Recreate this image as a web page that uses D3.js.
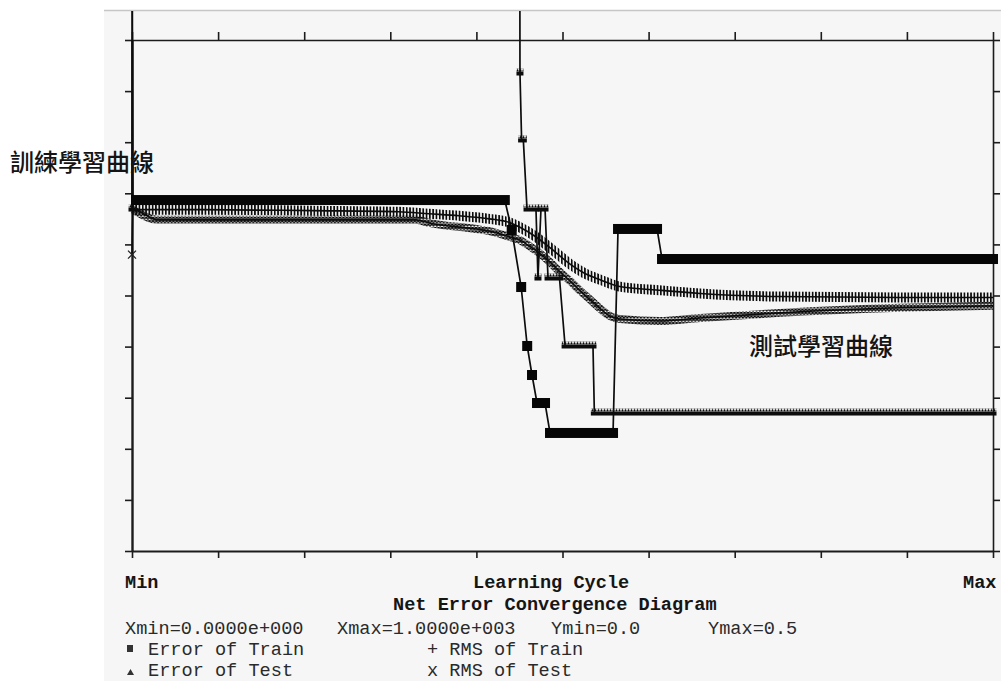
<!DOCTYPE html>
<html>
<head>
<meta charset="utf-8">
<script src="https://cdn.jsdelivr.net/npm/d3@7"></script>
<style>
  html, body { margin: 0; padding: 0; background: #fff; }
  svg { display: block; }
</style>
</head>
<body>
<svg id="chart" width="1001" height="681"></svg>
<script>
// ---- Error of Train: runs of a constant value (start cycle, end cycle, value) ----
const trainErrStart = [0, 1, 441, 452, 459, 464.6, 470.4, 485.5, 564.5, 615.6];
const trainErrEnd   = [0, 433, 441, 452, 459, 464.6, 479.7, 558.7, 609.8, 1000];
const trainErrValue = [0.6, 0.3434, 0.3141, 0.2583, 0.2006, 0.1722, 0.1448, 0.1155, 0.3151, 0.2857];

// ---- Error of Test: runs of a constant value ----
const testErrStart = [0, 1, 450.6, 452.5, 458.8, 471.5, 475, 483.2, 503, 537];
const testErrEnd   = [0, 450, 450.6, 454.5, 469.2, 471.5, 479.7, 496.5, 535.4, 1000];
const testErrValue = [0.3346, 0.9, 0.4677, 0.4022, 0.3346, 0.2671, 0.3346, 0.2671, 0.2006, 0.1350];

// ---- RMS of Train ----
const rmsTrainCycle = [0, 80, 210, 310, 345, 380, 415, 440, 450, 468, 485, 510, 525, 545, 565, 615, 660, 750, 890, 1000];
const rmsTrainValue = [0.334, 0.334, 0.333, 0.332, 0.330, 0.328, 0.325, 0.321, 0.317, 0.308, 0.297, 0.280, 0.272, 0.265, 0.259, 0.255, 0.252, 0.249, 0.248, 0.248];

// ---- RMS of Test ----
const rmsTestCycle = [0, 1, 30, 230, 330, 345, 400, 415, 440, 451, 462, 474, 485, 497, 509, 520, 532, 544, 555, 567, 613, 660, 753, 892, 1000];
const rmsTestValue = [0.290, 0.334, 0.324, 0.324, 0.324, 0.321, 0.315, 0.313, 0.307, 0.304, 0.298, 0.291, 0.283, 0.273, 0.264, 0.255, 0.246, 0.237, 0.230, 0.227, 0.225, 0.228, 0.233, 0.238, 0.240];

// ---- Axis ticks ----
const xTickValues = [0, 100, 200, 300, 400, 500, 600, 700, 800, 900, 1000];
const yTickValues = [0, 0.05, 0.1, 0.15, 0.2, 0.25, 0.3, 0.35, 0.4, 0.45, 0.5];

// ---- Texts ----
const axisLabels = ["Min", "Learning Cycle", "Max"];
const chartTitle = "Net Error Convergence Diagram";
const rangeLabels = ["Xmin=0.0000e+000", "Xmax=1.0000e+003", "Ymin=0.0", "Ymax=0.5"];
const legendNames = ["Error of Train", "RMS of Train", "Error of Test", "RMS of Test"];
const curveLabels = ["訓練學習曲線", "測試學習曲線"];

const W = 1001, H = 681;
const svg = d3.select("#chart");
const ink = "#0c0c0c";

const x = d3.scaleLinear().domain([0, 1000]).range([132, 993]);
const y = d3.scaleLinear().domain([0, 0.5]).range([551, 40]);

// panel
svg.append("rect").attr("x", 104).attr("y", 10).attr("width", W - 104).attr("height", H - 10).attr("fill", "#f6f6f6");
svg.append("line").attr("x1", 104).attr("x2", W).attr("y1", 10.5).attr("y2", 10.5)
  .attr("stroke", "#c6c6c6").attr("stroke-width", 1.5);

const defs = svg.append("defs");
defs.append("clipPath").attr("id", "clipTrain").append("rect")
  .attr("x", 131).attr("y", 11).attr("width", W - 131).attr("height", 560);
defs.append("clipPath").attr("id", "clipData").append("rect")
  .attr("x", 128).attr("y", 11).attr("width", W - 128).attr("height", 560);

// "+" marker texture: vertical bars
const plusPat = defs.append("pattern").attr("id", "plusPat").attr("patternUnits", "userSpaceOnUse")
  .attr("width", 3.3).attr("height", 20);
plusPat.append("rect").attr("x", 0).attr("y", 0).attr("width", 1.7).attr("height", 20).attr("fill", ink);

// "x" marker texture: diagonal cross hatch
const xPat = defs.append("pattern").attr("id", "xPat").attr("patternUnits", "userSpaceOnUse")
  .attr("width", 3.4).attr("height", 3.4);
xPat.append("path").attr("d", "M0,0L3.4,3.4M0,3.4L3.4,0").attr("stroke", ink).attr("stroke-width", 1.3).attr("fill", "none");

// axes
function styleAxis(g, w) {
  g.select(".domain").attr("stroke", "#1c1c1c").attr("stroke-width", w);
  g.selectAll(".tick line").attr("stroke", "#1c1c1c").attr("stroke-width", 1.6);
}
svg.append("g").attr("transform", "translate(0,551)")
  .call(d3.axisBottom(x).tickValues(xTickValues).tickSize(7).tickSizeOuter(0).tickFormat(""))
  .call(g => styleAxis(g, 2));
svg.append("g").attr("transform", "translate(0,40)")
  .call(d3.axisTop(x).tickValues(xTickValues).tickSize(8).tickSizeOuter(0).tickFormat(""))
  .call(g => styleAxis(g, 1.6));
svg.append("g").attr("transform", "translate(132,0)")
  .call(d3.axisLeft(y).tickValues(yTickValues).tickSize(7).tickSizeOuter(0).tickFormat(""))
  .call(g => styleAxis(g, 2.4));
svg.append("g").attr("transform", "translate(993,0)")
  .call(d3.axisRight(y).tickValues(yTickValues).tickSize(7).tickSizeOuter(0).tickFormat(""))
  .call(g => styleAxis(g, 1.6));

const line = d3.line().x(d => x(d[0])).y(d => y(d[1]));
const smooth = d3.line().x(d => x(d[0])).y(d => y(d[1])).curve(d3.curveMonotoneX);

// ---- RMS curves ----
const gData = svg.append("g").attr("clip-path", "url(#clipData)");

const rmsTrainPts = rmsTrainCycle.map((c, i) => [c, rmsTrainValue[i]]);
gData.append("path").attr("d", smooth(rmsTrainPts)).attr("fill", "none")
  .attr("stroke", "url(#plusPat)").attr("stroke-width", 10);
gData.append("path").attr("d", smooth(rmsTrainPts)).attr("fill", "none")
  .attr("stroke", ink).attr("stroke-width", 1.6);

const rmsTestPts = rmsTestCycle.map((c, i) => [c, rmsTestValue[i]]);
gData.append("path").attr("d", smooth(rmsTestPts.slice(1))).attr("fill", "none")
  .attr("stroke", "url(#xPat)").attr("stroke-width", 8);
gData.append("path").attr("d", smooth(rmsTestPts)).attr("fill", "none")
  .attr("stroke", ink).attr("stroke-width", 1.6);

// first RMS of Test sample as a lone "x"
const x0 = x(rmsTestCycle[0]), y0 = y(rmsTestValue[0]);
svg.append("path").attr("d", `M${x0 - 4},${y0 - 4}L${x0 + 4},${y0 + 4}M${x0 - 4},${y0 + 4}L${x0 + 4},${y0 - 4}`)
  .attr("stroke", "#222").attr("stroke-width", 1.3);

// ---- Error of Test: step line with triangle markers ----
const testRuns = testErrStart.map((s, i) => ({ s, e: testErrEnd[i], v: testErrValue[i] }));
gData.append("path").attr("d", line(testRuns.flatMap(r => [[r.s, r.v], [r.e, r.v]])))
  .attr("fill", "none").attr("stroke", ink).attr("stroke-width", 1.7);
testRuns.forEach((r, i) => {
  const pat = defs.append("pattern").attr("id", "tri" + i).attr("patternUnits", "userSpaceOnUse")
    .attr("x", 0).attr("y", y(r.v) - 4.5).attr("width", 3).attr("height", 3);
  pat.append("path").attr("d", "M0,3L1.5,0L3,3Z").attr("fill", ink);
});
gData.selectAll("rect.triTeeth").data(testRuns).join("rect").attr("class", "triTeeth")
  .attr("x", r => x(r.s) - 3.5).attr("width", r => x(r.e) - x(r.s) + 7)
  .attr("y", r => y(r.v) - 4.5).attr("height", 3)
  .attr("fill", (r, i) => `url(#tri${i})`);
gData.selectAll("rect.triBase").data(testRuns).join("rect").attr("class", "triBase")
  .attr("x", r => x(r.s) - 3.5).attr("width", r => x(r.e) - x(r.s) + 7)
  .attr("y", r => y(r.v) - 1.5).attr("height", 4).attr("fill", ink);

// ---- Error of Train: step line with square markers ----
const gTrain = svg.append("g").attr("clip-path", "url(#clipTrain)");
const trainRuns = trainErrStart.map((s, i) => ({ s, e: trainErrEnd[i], v: trainErrValue[i] }));
gTrain.append("path").attr("d", line(trainRuns.flatMap(r => [[r.s, r.v], [r.e, r.v]])))
  .attr("fill", "none").attr("stroke", ink).attr("stroke-width", 1.7);
gTrain.selectAll("rect").data(trainRuns).join("rect")
  .attr("x", r => x(r.s) - 5).attr("width", r => x(r.e) - x(r.s) + 10)
  .attr("y", r => y(r.v) - 5).attr("height", 10).attr("fill", "#060606");

// ---- curve labels ----
const cjk = "'Noto Sans CJK TC', 'Noto Sans CJK SC', sans-serif";
svg.append("text").attr("x", 10).attr("y", 171).attr("font-family", cjk).attr("font-size", 24)
  .attr("font-weight", 500).attr("fill", "#141414").text(curveLabels[0]);
svg.append("text").attr("x", 749).attr("y", 355).attr("font-family", cjk).attr("font-size", 24)
  .attr("font-weight", 500).attr("fill", "#141414").text(curveLabels[1]);

// ---- footer text ----
const mono = "'Liberation Mono', 'DejaVu Sans Mono', monospace";
function footer(tx, ty, str, bold) {
  svg.append("text").attr("x", tx).attr("y", ty)
    .attr("font-family", mono).attr("font-size", 18.6)
    .attr("font-weight", bold ? "bold" : "normal")
    .attr("fill", bold ? "#151515" : "#2a2a2a")
    .attr("xml:space", "preserve")
    .text(str);
}
footer(125, 588, axisLabels[0], true);
footer(473, 588, axisLabels[1], true);
footer(963, 588, axisLabels[2], true);
footer(393, 609.5, chartTitle, true);
footer(125, 633.5, rangeLabels[0], false);
footer(337, 633.5, rangeLabels[1], false);
footer(551, 633.5, rangeLabels[2], false);
footer(708, 633.5, rangeLabels[3], false);
footer(148, 655, legendNames[0], false);
footer(427, 655, "+ " + legendNames[1], false);
footer(148, 675.5, legendNames[2], false);
footer(427, 675.5, "x " + legendNames[3], false);

// legend symbols
svg.append("rect").attr("x", 127).attr("y", 645).attr("width", 6).attr("height", 7).attr("fill", "#333");
svg.append("path").attr("d", "M127,675L130.5,669L134,675Z").attr("fill", "#333");
</script>
</body>
</html>
